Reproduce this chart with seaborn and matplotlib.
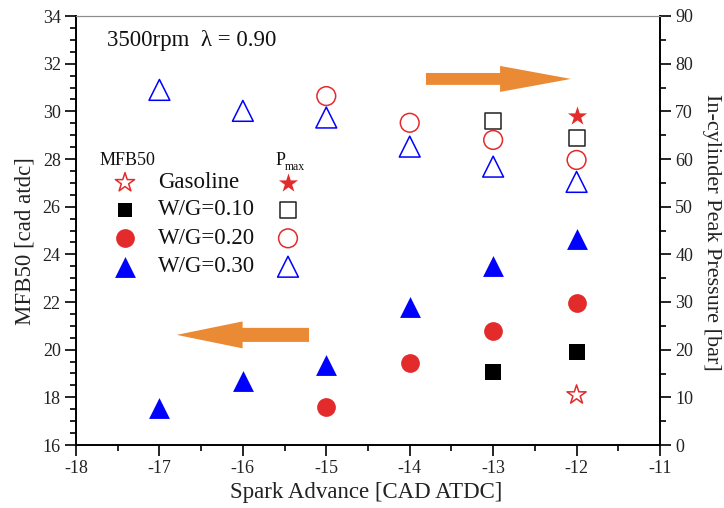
import matplotlib
matplotlib.use("Agg")
import matplotlib.pyplot as plt
from matplotlib.patches import FancyArrow
from matplotlib.ticker import MultipleLocator
import pandas as pd
import seaborn as sns

# Spark advance [CAD ATDC] for each fuel blend
spark_gasoline = [-12]
spark_wg10 = [-13, -12]
spark_wg20 = [-15, -14, -13, -12]
spark_wg30 = [-17, -16, -15, -14, -13, -12]

# MFB50 [cad atdc]
mfb50_gasoline = [18.1]
mfb50_wg10 = [19.05, 19.9]
mfb50_wg20 = [17.6, 19.45, 20.8, 21.95]
mfb50_wg30 = [17.55, 18.7, 19.35, 21.8, 23.5, 24.65]

# In-cylinder peak pressure [bar]
pmax_gasoline = [69.0]
pmax_wg10 = [68.0, 64.5]
pmax_wg20 = [73.2, 67.6, 64.0, 59.8]
pmax_wg30 = [74.5, 70.1, 68.7, 62.6, 58.4, 55.2]

series_labels = ["Gasoline", "W/G=0.10", "W/G=0.20", "W/G=0.30"]

RED = "#E32B2B"
BLUE = "#0000FF"
BLACK = "#000000"
ORANGE = "#EB8A35"

sns.set_theme(style="ticks")
plt.rcParams["font.family"] = ["Liberation Serif", "DejaVu Serif"]
plt.rcParams["axes.unicode_minus"] = False

fig = plt.figure(figsize=(7.24, 5.08), dpi=100)
ax = fig.add_axes([76 / 724, 63 / 508, 584 / 724, 429 / 508])
ax2 = ax.twinx()

def frame(spark, values):
    return pd.DataFrame({"spark": spark, "value": values})

# marker style per series: (marker, colour, size in points)
styles = [
    ("*", RED, 14.5),
    ("s", BLACK, 11.5),
    ("o", RED, 13.5),
    ("^", BLUE, 15.0),
]
mfb_sets = [
    (spark_gasoline, mfb50_gasoline),
    (spark_wg10, mfb50_wg10),
    (spark_wg20, mfb50_wg20),
    (spark_wg30, mfb50_wg30),
]
pmax_sets = [
    (spark_gasoline, pmax_gasoline),
    (spark_wg10, pmax_wg10),
    (spark_wg20, pmax_wg20),
    (spark_wg30, pmax_wg30),
]

# MFB50: open star for gasoline, filled markers for the blends
for i, ((sp, vals), (mk, col, ms)) in enumerate(zip(mfb_sets, styles)):
    filled = i != 0
    sns.scatterplot(data=frame(sp, vals), x="spark", y="value", ax=ax,
                    marker=mk, s=ms ** 2, color=col,
                    facecolor=col if filled else "none", edgecolor=col,
                    linewidth=0 if filled else 1.1, zorder=3)

# Peak pressure: filled star for gasoline, open markers for the blends
for i, ((sp, vals), (mk, col, ms)) in enumerate(zip(pmax_sets, styles)):
    filled = i == 0
    ec = "#222222" if mk == "s" else col
    sns.scatterplot(data=frame(sp, vals), x="spark", y="value", ax=ax2,
                    marker=mk, s=ms ** 2, color=ec,
                    facecolor=ec if filled else "none", edgecolor=ec,
                    linewidth=0 if filled else 1.1, zorder=3)

# axes ranges and ticks
ax.set_xlim(-18, -11)
ax.set_ylim(16, 34)
ax2.set_ylim(0, 90)
ax.xaxis.set_major_locator(MultipleLocator(1))
ax.xaxis.set_minor_locator(MultipleLocator(0.5))
ax.yaxis.set_major_locator(MultipleLocator(2))
ax.yaxis.set_minor_locator(MultipleLocator(0.5))
ax2.yaxis.set_major_locator(MultipleLocator(10))
ax2.yaxis.set_minor_locator(MultipleLocator(5))

for a in (ax, ax2):
    a.tick_params(which="major", direction="out", length=8, width=1.2,
                  labelsize=13, pad=3, color="black", labelcolor="#222222")
    a.tick_params(which="minor", direction="out", length=4.5, width=1.2,
                  color="black")
    for side in ("left", "right", "bottom"):
        a.spines[side].set_linewidth(1.4)
        a.spines[side].set_color("black")
    a.spines["top"].set_linewidth(0.8)
    a.spines["top"].set_color("#8c8c8c")
    a.grid(False)
ax.spines["right"].set_visible(False)
ax2.spines["left"].set_visible(False)
ax2.spines["bottom"].set_visible(False)

ax.set_xlabel("Spark Advance [CAD ATDC]", fontsize=16.5, color="#222222")
ax.set_ylabel("MFB50 [cad atdc]", fontsize=16.5, color="#222222")
ax2.set_ylabel("In-cylinder Peak Pressure [bar]", fontsize=16, color="#222222",
               rotation=270, va="bottom")
ax.xaxis.set_label_coords(0.497, -0.086)
ax.yaxis.set_label_coords(-0.070, 0.475)
ax2.yaxis.set_label_coords(1.072, 0.495)

# condition note
ax.text(0.053, 0.944, "3500rpm  \u03bb = 0.90", transform=ax.transAxes,
        fontsize=16.5, ha="left", va="center", color="#111111")

# arrows pointing to the axis each group belongs to
ax.add_patch(FancyArrow(-13.805, 31.36, 1.738, 0, width=0.50, head_width=1.09,
                        head_length=0.85, length_includes_head=True,
                        color=ORANGE, lw=0, zorder=2))
ax.add_patch(FancyArrow(-15.207, 20.62, -1.586, 0, width=0.59, head_width=1.13,
                        head_length=0.79, length_includes_head=True,
                        color=ORANGE, lw=0, zorder=2))

# two-column key: MFB50 markers on the left, Pmax markers on the right
row_y = [0.6114, 0.5478, 0.4818, 0.4156]
ax.text(0.041, 0.664, "MFB50", transform=ax.transAxes, fontsize=13,
        ha="left", va="center", color="#111111")
ax.text(0.3408, 0.664, "P", transform=ax.transAxes, fontsize=13,
        ha="left", va="center", color="#111111")
ax.text(0.358, 0.648, "max", transform=ax.transAxes, fontsize=8.5,
        ha="left", va="center", color="#111111")
for i, (label, (mk, col, ms), y) in enumerate(zip(series_labels, styles, row_y)):
    ec = "#222222" if mk == "s" else col
    left_filled = i != 0
    ax.scatter([0.0839], [y], transform=ax.transAxes, marker=mk,
               s=(ms * (0.9 if mk == "s" else 1.0)) ** 2,
               facecolor=col if left_filled else "none", edgecolor=col,
               linewidth=0 if left_filled else 1.1, clip_on=False, zorder=4)
    ax.scatter([0.363], [y], transform=ax.transAxes, marker=mk, s=ms ** 2,
               facecolor=ec if not left_filled else "none", edgecolor=ec,
               linewidth=0 if not left_filled else 1.1, clip_on=False, zorder=4)
    ax.text(0.1404, y, label, transform=ax.transAxes, fontsize=16.5,
            ha="left", va="center", color="#111111")

fig.savefig("out.png", dpi=100)
